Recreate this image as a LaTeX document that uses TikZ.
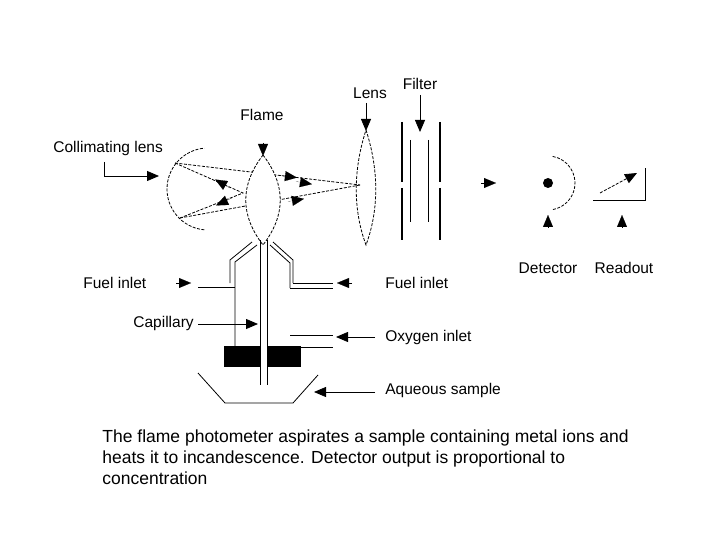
\documentclass[tikz,border=0pt]{standalone}
\usepackage{fontspec}
\setmainfont{Liberation Sans}
\usetikzlibrary{arrows.meta}
\tikzset{
  lbl/.style={font=\fontsize{15.5}{18}\selectfont, inner sep=1pt},
  tip/.style={-{Triangle[length=12pt,width=10pt]}},
  dsh/.style={dash pattern=on 3pt off 1.5pt},
  marker/.style={tip, shorten >=-1pt, line width=0.1pt}
}
\begin{document}
\begin{tikzpicture}[x=1pt,y=-1pt,line width=0.8pt]
  \useasboundingbox (0,0) rectangle (720,540);
  % labels
  \node[lbl] (lens) at (370,93) {Lens};
  \node[lbl] (filter) at (420,84) {Filter};
  \node[lbl] (flame) at (262,115) {Flame};
  \node[lbl,anchor=west] (coll) at (52,148) {Collimating lens};
  \node[lbl] (det) at (548,268) {Detector};
  \node[lbl] (read) at (624,268) {Readout};
  \node[lbl,anchor=west] (fuelL) at (82,283) {Fuel inlet};
  \node[lbl,anchor=west] (fuelR) at (384,283) {Fuel inlet};
  \node[lbl,anchor=west] (cap) at (132,323) {Capillary};
  \node[lbl,anchor=west] (oxy) at (384,337) {Oxygen inlet};
  \node[lbl,anchor=west] (aq) at (384,390) {Aqueous sample};
  % pointers
  \draw[tip] (366,103) -- (366,131);
  \draw[tip] (420,95) -- (420,132);
  \draw[marker] (263,143) -- (263,155);
  \draw[tip] (104,162) -- (104,176) -- (159,176);
  % collimating mirror and rays
  \draw[dsh] (208,189) ++(95:41) arc (95:265:41);
  \coordinate (A) at (175,163);
  \coordinate (B) at (180,218);
  \coordinate (F) at (243,193);
  \coordinate (L) at (360,185);
  \draw[dsh] (A) -- (L);
  \draw[dsh] (B) -- (L);
  \draw[dsh] (A) -- (F) -- (B);
  \draw[marker] (230,188) -- (216,180);
  \draw[marker] (232,198) -- (217,205);
  \draw[marker] (280,175.5) -- (296,177.5);
  \draw[marker] (296,181.5) -- (311,184);
  \draw[marker] (288,201.5) -- (303,199);
  % flame
  \draw[dsh,fill=white] (263,155) .. controls (286,185) and (286,215) .. (263,245)
    .. controls (240,215) and (240,185) .. (263,155);
  % lens
  \draw[dsh] (366,130) .. controls (379,170) and (379,210) .. (366,245)
    .. controls (353,210) and (353,170) .. (366,130);
  % filter
  \draw[line width=2.5pt] (402,122) -- (402,182) (402,188) -- (402,240);
  \draw[line width=2.5pt] (440,122) -- (440,182) (440,188) -- (440,240);
  \draw (410,140) -- (410,222) (428,140) -- (428,222);
  \draw[marker] (481,183) -- (495,183);
  % detector
  \fill (548,183) circle (5);
  \draw[dsh] (548,183) ++(-80:27) arc (-80:80:27);
  \draw[marker] (548,228) -- (548,216);
  % readout
  \draw (593,200) -- (645,200) -- (645,168);
  \draw[dsh,tip] (600,193) -- (637,173);
  \draw[marker] (622,228) -- (622,216);
  % burner
  \draw (260,240) -- (260,385) (267,240) -- (267,385);
  \draw (230,283) -- (230,260) -- (252,242);
  \draw (235,346) -- (235,262) -- (257,245);
  \draw (198,287) -- (235,287);
  \draw (293,283) -- (293,260) -- (273,242);
  \draw (290,288) -- (290,263) -- (270,245);
  \draw (293,283) -- (333,283) (290,288) -- (333,288);
  \fill (224,346) rectangle (260,367);
  \fill (267,346) rectangle (301,367);
  \draw (301,347) -- (333,347) (290,335) -- (333,335);
  \draw (198,373) -- (225,403) -- (293,403) -- (318,375);
  \draw[marker] (176,283) -- (190,283);
  \draw[marker] (352,283) -- (338,283);
  \draw[tip] (198,324) -- (258,324);
  \draw[tip] (375,337) -- (336,337);
  \draw[tip] (375,392) -- (314,392);
  % caption
  \node[anchor=north west, align=left, font=\fontsize{17.5}{21}\selectfont, inner sep=0pt] (capt) at (102,429)
    {The flame photometer aspirates a sample containing metal ions and\\
     heats it to incandescence. Detector output is proportional to\\
     concentration};
\end{tikzpicture}
\end{document}
